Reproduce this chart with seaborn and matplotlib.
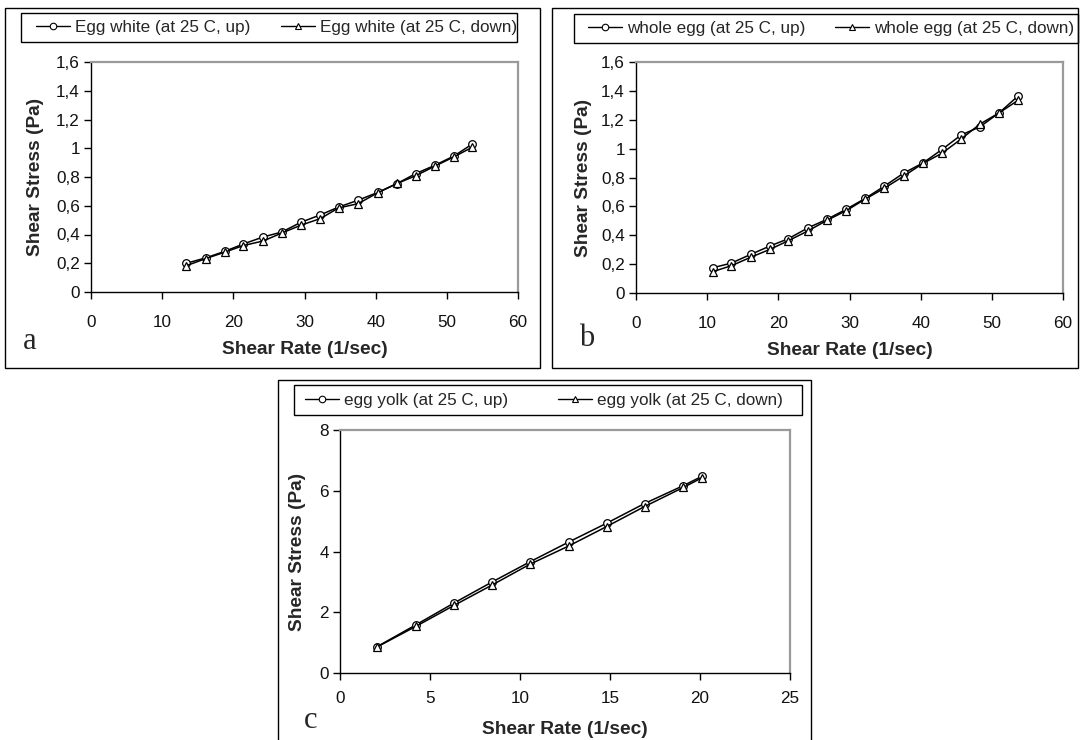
import matplotlib
matplotlib.use("Agg")
import matplotlib.pyplot as plt
from matplotlib.lines import Line2D
from matplotlib.patches import Rectangle
import seaborn as sns

# ---- data -------------------------------------------------------------
white_rate = [13.4, 16.1, 18.8, 21.4, 24.2, 26.8, 29.5, 32.2, 34.8, 37.5,
              40.3, 43.0, 45.6, 48.3, 51.0, 53.6]
white_up = [0.20, 0.237, 0.283, 0.334, 0.383, 0.417, 0.485, 0.536, 0.591, 0.638,
            0.693, 0.754, 0.823, 0.881, 0.946, 1.03]
white_down = [0.183, 0.232, 0.277, 0.323, 0.355, 0.41, 0.465, 0.51, 0.585, 0.614,
              0.69, 0.755, 0.808, 0.875, 0.94, 1.008]

whole_rate = [10.8, 13.4, 16.1, 18.8, 21.4, 24.2, 26.9, 29.5, 32.2, 34.9,
              37.6, 40.3, 43.0, 45.7, 48.3, 51.0, 53.7]
whole_up = [0.175, 0.207, 0.267, 0.325, 0.376, 0.452, 0.512, 0.579, 0.655, 0.74,
            0.83, 0.90, 0.994, 1.095, 1.15, 1.247, 1.365]
whole_down = [0.148, 0.189, 0.247, 0.302, 0.362, 0.431, 0.505, 0.569, 0.650, 0.726,
              0.809, 0.897, 0.968, 1.067, 1.169, 1.247, 1.335]

yolk_rate = [2.07, 4.23, 6.35, 8.46, 10.55, 12.7, 14.81, 16.92, 19.08, 20.09]
yolk_up = [0.87, 1.59, 2.31, 3.0, 3.66, 4.31, 4.93, 5.58, 6.17, 6.47]
yolk_down = [0.86, 1.54, 2.23, 2.9, 3.58, 4.18, 4.82, 5.48, 6.11, 6.42]

stress_ticks_ab = [0, 0.2, 0.4, 0.6, 0.8, 1.0, 1.2, 1.4, 1.6]
stress_labels_ab = ["0", "0,2", "0,4", "0,6", "0,8", "1", "1,2", "1,4", "1,6"]
rate_ticks_ab = [0, 10, 20, 30, 40, 50, 60]
stress_ticks_c = [0, 2, 4, 6, 8]
rate_ticks_c = [0, 5, 10, 15, 20, 25]

labels_a = ["Egg white (at 25 C, up)", "Egg white (at 25 C, down)"]
labels_b = ["whole egg (at 25 C, up)", "whole egg (at 25 C, down)"]
labels_c = ["egg yolk (at 25 C, up)", "egg yolk (at 25 C, down)"]

# ---- styling ----------------------------------------------------------
sns.set_style("white")
plt.rcParams["font.family"] = ["Liberation Sans", "DejaVu Sans"]

W, H = 1080, 740
fig = plt.figure(figsize=(W / 100, H / 100), dpi=100)
fig.patch.set_facecolor("white")

TICK_FS = 12.3
LABEL_FS = 13.8
LEG_FS = 12.3
MS = 5.5


def fx(px):
    return px / W


def fy(py):
    return 1 - py / H


def frame(l, t, r, b, lw=1.0):
    fig.add_artist(Rectangle((fx(l), fy(b)), fx(r) - fx(l), fy(t) - fy(b),
                             transform=fig.transFigure, fill=False,
                             edgecolor="black", linewidth=lw, zorder=0))


def make_axes(l, t, r, b, xpad):
    ax = fig.add_axes([fx(l), fy(b), fx(r) - fx(l), fy(t) - fy(b)])
    ax.set_facecolor("white")
    for side in ("left", "bottom"):
        ax.spines[side].set_color("black")
        ax.spines[side].set_linewidth(1.0)
    for side in ("top", "right"):
        ax.spines[side].set_color("#9a9a9a")
        ax.spines[side].set_linewidth(1.6)
    ax.tick_params(axis="both", which="both", direction="out", length=5, width=1,
                   color="black", labelsize=TICK_FS, labelcolor="#111111",
                   top=False, right=False, left=True, bottom=True)
    ax.tick_params(axis="x", pad=xpad)
    ax.tick_params(axis="y", pad=3)
    ax.grid(False)
    return ax


def draw_series(ax, x, up, down):
    sns.lineplot(x=x, y=up, ax=ax, sort=False, color="black", linewidth=1.1,
                 marker="o", markersize=MS, markerfacecolor="white",
                 markeredgecolor="black", markeredgewidth=0.9)
    sns.lineplot(x=x, y=down, ax=ax, sort=False, color="black", linewidth=1.1,
                 marker="^", markersize=MS + 0.5, markerfacecolor="white",
                 markeredgecolor="black", markeredgewidth=0.9)


def legend_entry(marker, text, x_px, y_px, hlen):
    h = Line2D([], [], color="black", linewidth=1.0, marker=marker,
               markersize=MS - 0.8, markerfacecolor="white",
               markeredgecolor="black", markeredgewidth=0.8)
    fig.legend(handles=[h], labels=[text], loc="center left",
               bbox_to_anchor=(fx(x_px), fy(y_px)), frameon=False,
               borderpad=0, borderaxespad=0, handlelength=hlen,
               handletextpad=0.3, fontsize=LEG_FS)


def axis_titles(ax, l, t, r, b, ylab_x, xlab_y):
    ax.set_xlabel("Shear Rate (1/sec)", fontsize=LABEL_FS, fontweight="bold")
    ax.set_ylabel("Shear Stress (Pa)", fontsize=LABEL_FS, fontweight="bold")
    ax.xaxis.set_label_coords(0.5, -(xlab_y - b) / (b - t))
    ax.yaxis.set_label_coords(-(l - ylab_x) / (r - l), 0.5)
    ax.xaxis.label.set_va("center")
    ax.yaxis.label.set_va("center")


# ---- panel a: egg white ----------------------------------------------
frame(5, 8, 540, 368)
frame(21, 13, 517, 42)
a_box = (91, 62, 518, 292)
ax_a = make_axes(*a_box, xpad=11.5)
draw_series(ax_a, white_rate, white_up, white_down)
ax_a.set_xlim(0, 60)
ax_a.set_ylim(0, 1.6)
ax_a.set_xticks(rate_ticks_ab)
ax_a.set_yticks(stress_ticks_ab)
ax_a.set_yticklabels(stress_labels_ab)
axis_titles(ax_a, *a_box, ylab_x=36, xlab_y=350)
legend_entry("o", labels_a[0], 36, 27.5, 2.0)
legend_entry("^", labels_a[1], 281, 27.5, 2.0)
fig.text(fx(30), fy(342), "a", family="Liberation Serif", fontsize=22,
         ha="center", va="center")

# ---- panel b: whole egg ----------------------------------------------
frame(552, 8, 1078, 368)
frame(574, 14, 1078, 43)
b_box = (636, 62, 1063, 293)
ax_b = make_axes(*b_box, xpad=11.5)
draw_series(ax_b, whole_rate, whole_up, whole_down)
ax_b.set_xlim(0, 60)
ax_b.set_ylim(0, 1.6)
ax_b.set_xticks(rate_ticks_ab)
ax_b.set_yticks(stress_ticks_ab)
ax_b.set_yticklabels(stress_labels_ab)
axis_titles(ax_b, *b_box, ylab_x=583, xlab_y=350)
legend_entry("o", labels_b[0], 588, 28.5, 2.0)
legend_entry("^", labels_b[1], 835, 28.5, 2.0)
fig.text(fx(587), fy(339), "b", family="Liberation Serif", fontsize=22,
         ha="center", va="center")

# ---- panel c: egg yolk -----------------------------------------------
frame(278, 380, 811, 745)
frame(294, 385, 802, 415)
c_box = (340, 430, 790, 673)
ax_c = make_axes(*c_box, xpad=8)
draw_series(ax_c, yolk_rate, yolk_up, yolk_down)
ax_c.set_xlim(0, 25)
ax_c.set_ylim(0, 8)
ax_c.set_xticks(rate_ticks_c)
ax_c.set_yticks(stress_ticks_c)
axis_titles(ax_c, *c_box, ylab_x=298, xlab_y=730)
legend_entry("o", labels_c[0], 305, 400, 2.0)
legend_entry("^", labels_c[1], 558, 400, 2.0)
fig.text(fx(311), fy(720), "c", family="Liberation Serif", fontsize=22,
         ha="center", va="center")

fig.savefig("out.png", dpi=100, facecolor="white")
